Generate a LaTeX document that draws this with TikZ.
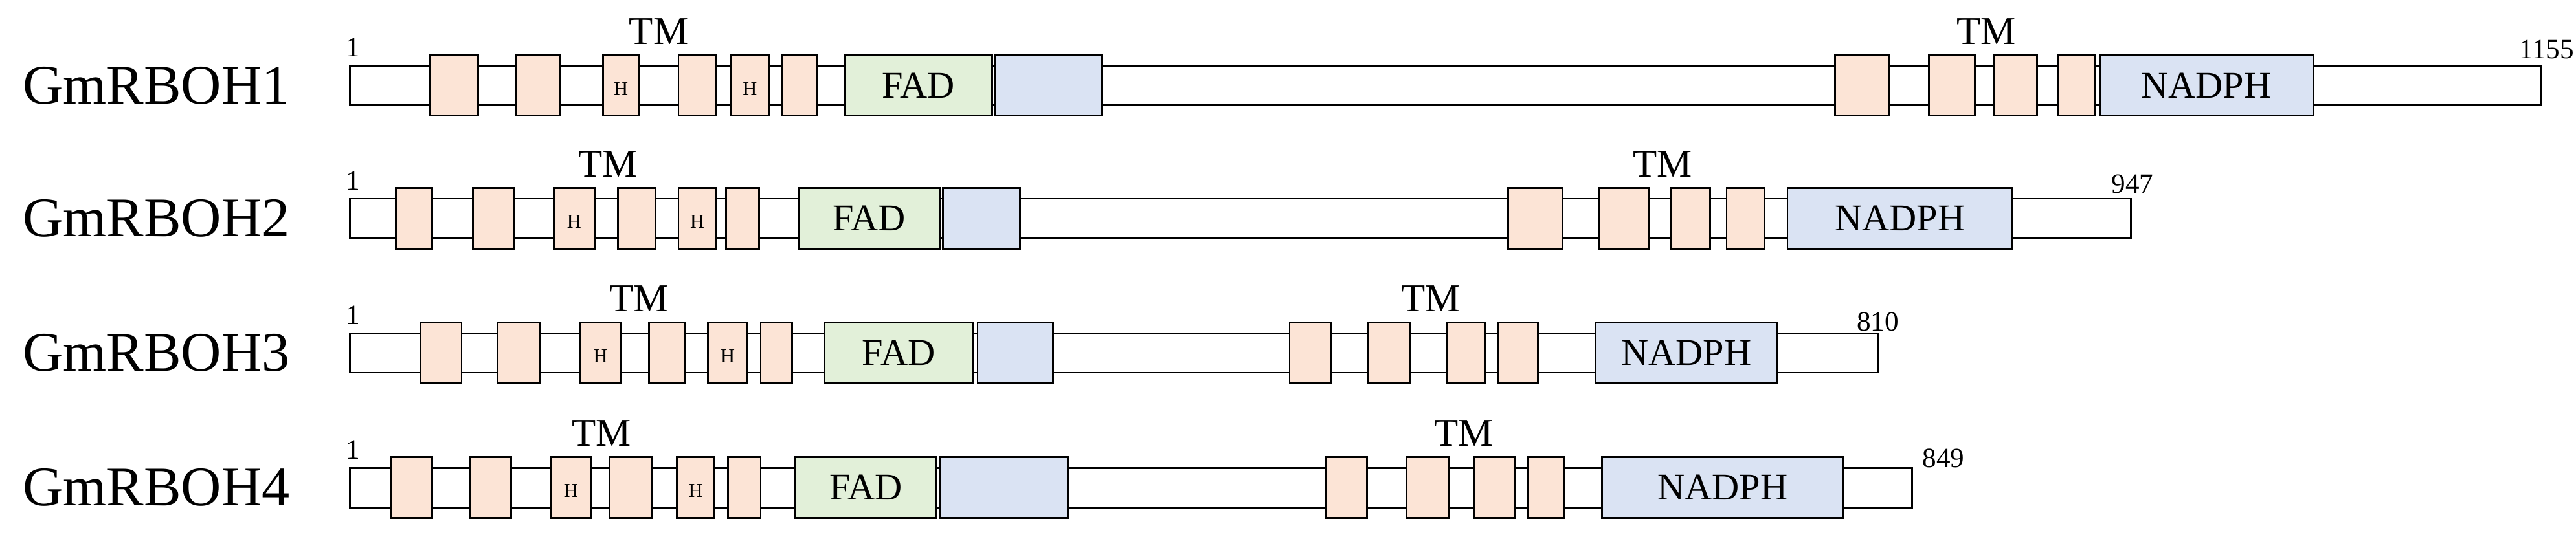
\documentclass[tikz,border=0pt]{standalone}
\usepackage{fontspec}
\setmainfont{Liberation Serif}
\begin{document}
\begin{tikzpicture}[x=1pt,y=-1pt,line width=1.1pt,
  bar/.style={draw=black,fill=white},
  bt/.style={draw=black,fill=tmc},
  bh/.style={draw=black,fill=tmc},
  bf/.style={draw=black,fill=fadc},
  bb/.style={draw=black,fill=nadc},
  bn/.style={draw=black,fill=nadc},
  xt/.style={},
  xb/.style={},
  xh/.style={font=\fontsize{12}{12}\selectfont,yshift=-2pt},
  xf/.style={font=\fontsize{23}{23}\selectfont},
  xn/.style={font=\fontsize{23}{23}\selectfont},
  lbl/.style={font=\fontsize{34}{34}\selectfont,anchor=west},
  tml/.style={font=\fontsize{24}{24}\selectfont},
  num/.style={font=\fontsize{17}{17}\selectfont}]
\definecolor{tmc}{HTML}{FCE4D6}
\definecolor{fadc}{HTML}{E2F0D9}
\definecolor{nadc}{HTML}{DAE3F3}
\useasboundingbox (0,0) rectangle (1568,327);
\foreach \yc/\en/\num/\nx/\nyy/\tmA/\tmB/\nm/\bx in {
 52/1547/1155/1550/30/401/1209/1/{262/291/t/{},314/341/t/{},367/389/h/H,413/436/t/{},445/468/h/H,476/497/t/{},514/604/f/FAD,606/671/b/{},1117/1150/t/{},1174/1202/t/{},1214/1240/t/{},1253/1275/t/{},1278/1408/n/NADPH},
 133/1297/947/1298/112/370/1012/2/{241/263/t/{},288/313/t/{},337/362/h/H,376/399/t/{},413/436/h/H,442/462/t/{},486/572/f/FAD,574/621/b/{},918/951/t/{},973/1004/t/{},1017/1041/t/{},1051/1074/t/{},1088/1225/n/NADPH},
 215/1143/810/1143/196/389/871/3/{256/281/t/{},303/329/t/{},353/378/h/H,395/417/t/{},431/455/h/H,463/482/t/{},502/592/f/FAD,595/641/b/{},785/810/t/{},833/858/t/{},881/904/t/{},912/936/t/{},971/1082/n/NADPH},
 297/1164/849/1183/279/366/891/4/{238/263/t/{},286/311/t/{},335/360/h/H,371/397/t/{},412/435/h/H,443/463/t/{},484/570/f/FAD,572/650/b/{},807/832/t/{},856/882/t/{},897/922/t/{},930/952/t/{},975/1122/n/NADPH}}{
  \node[lbl] (lab\nm) at (10,\yc) {GmRBOH\nm};
  \draw[bar] (213,\yc-12) rectangle (\en,\yc+12);
  \node[num] (one\nm) at (215,\yc-23) {1};
  \node[num] (len\nm) at (\nx,\nyy) {\num};
  \node[tml] (tma\nm) at (\tmA,\yc-33) {TM};
  \node[tml] (tmb\nm) at (\tmB,\yc-33) {TM};
  \foreach \a/\b/\t/\tx in \bx {
    \draw[b\t] (\a,\yc-18.5) rectangle (\b,\yc+18.5);
    \node[x\t] at ({(\a+\b)/2},\yc) {\tx};
  }
}
\end{tikzpicture}
\end{document}
